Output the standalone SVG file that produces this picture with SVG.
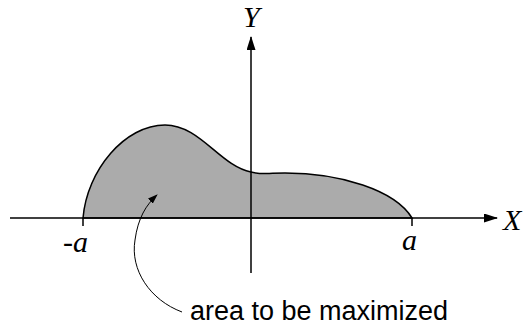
<svg xmlns="http://www.w3.org/2000/svg" width="523" height="326" viewBox="0 0 523 326">
<style>
.ax{stroke:#000;stroke-width:1.5;fill:none}
.lbl{font-family:"Liberation Serif",serif;font-style:italic;font-size:30px;fill:#000}
.txt{font-family:"Liberation Sans",sans-serif;font-size:27px;fill:#000}
</style>
<defs>
<marker id="ah" markerWidth="14" markerHeight="10" refX="13" refY="4.5" orient="auto" markerUnits="userSpaceOnUse">
<path d="M0,0 L14,4.5 L0,9 Z" fill="#000"/>
</marker>
<marker id="ah2" markerWidth="10" markerHeight="8" refX="9" refY="3.5" orient="auto" markerUnits="userSpaceOnUse">
<path d="M0,0 L10,3.5 L0,7 Z" fill="#000"/>
</marker>
</defs>
<g id="region">
<path d="M83,218 C87,170 125,125 165,125 C200,125 220,166 251,172 C262,175 270,173 285,173 C340,173 395,190 412,218 Z" fill="#ababab" stroke="#000" stroke-width="1.5"/>
</g>
<g id="connectors">
<path class="ax" d="M10,218 L497,218" marker-end="url(#ah)"/>
<path class="ax" d="M251,273 L251,37" marker-end="url(#ah)"/>
<path class="ax" d="M83,218 L83,226 M412,218 L412,226" stroke-width="1"/>
<path d="M182,312 C150,300 130,270 135,240 C138,218 146,205 157,195" fill="none" stroke="#000" stroke-width="1" marker-end="url(#ah2)"/>
</g>
<g id="labels">
<text class="lbl" x="243" y="27">Y</text>
<text class="lbl" x="503" y="230">X</text>
<text class="lbl" x="63" y="252">-a</text>
<text class="lbl" x="402" y="250">a</text>
<text class="txt" x="190" y="320">area to be maximized</text>
</g>
</svg>
